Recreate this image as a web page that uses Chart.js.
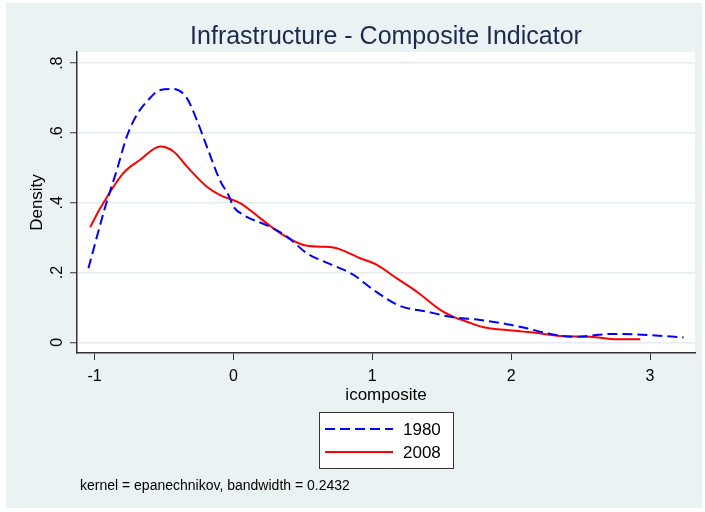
<!DOCTYPE html>
<html>
<head>
<meta charset="utf-8">
<script src="https://cdn.jsdelivr.net/npm/chart.js@4.4.1/dist/chart.umd.min.js"></script>
<style>
  html, body { margin: 0; padding: 0; background: #ffffff; }
  #wrap { width: 705px; height: 512px; }
</style>
</head>
<body>
<div id="wrap"><canvas id="chartDens" width="705" height="512"></canvas></div>
<script>
// valores (kdensity icomposite)
const x1980 = [-1.045, -0.923, -0.84, -0.768, -0.696, -0.624, -0.528, -0.432, -0.336, -0.264, -0.192, -0.096,
  -0.036, 0.0, 0.072, 0.264, 0.385, 0.529, 0.625, 0.769, 0.865, 1.009, 1.201, 1.393, 1.561, 1.777, 1.97, 2.114,
  2.258, 2.45, 2.738, 2.978, 3.242];
const d1980 = [0.212, 0.389, 0.494, 0.590, 0.652, 0.690, 0.723, 0.726, 0.70, 0.637, 0.561, 0.463,
  0.422, 0.389, 0.365, 0.331, 0.303, 0.255, 0.236, 0.212, 0.193, 0.150, 0.104, 0.088, 0.073, 0.064, 0.052, 0.040,
  0.026, 0.016, 0.024, 0.021, 0.014];

const x2008 = [-1.032, -0.96, -0.793, -0.672, -0.528, -0.432, -0.336, -0.192, -0.096, 0.048, 0.192, 0.336,
  0.504, 0.625, 0.72, 0.913, 1.033, 1.177, 1.321, 1.489, 1.585, 1.681, 1.801, 1.97, 2.161, 2.354, 2.57, 2.762, 2.93];
const d2008 = [0.330, 0.384, 0.485, 0.523, 0.561, 0.547, 0.504, 0.446, 0.422, 0.399, 0.356, 0.313,
  0.279, 0.274, 0.272, 0.241, 0.222, 0.183, 0.145, 0.093, 0.073, 0.059, 0.043, 0.035, 0.028, 0.018, 0.016, 0.009, 0.009];

const seriesNames = ['1980', '2008'];
const xTicks = [-1, 0, 1, 2, 3];
const xTickLabels = ['-1', '0', '1', '2', '3'];
const yTicks = [0, 0.2, 0.4, 0.6, 0.8];
const yTickLabels = ['0', '.2', '.4', '.6', '.8'];

const titleText = 'Infrastructure - Composite Indicator';
const xTitle = 'icomposite';
const yTitle = 'Density';
const noteText = 'kernel = epanechnikov, bandwidth = 0.2432';

const FONT = '"Liberation Sans", Arial, Helvetica, sans-serif';
const BG = '#EAF2F3';

function pts(xs, ys) { return xs.map((x, i) => ({ x: x, y: ys[i] })); }

// desenha fundo, titulo, rotulos e a legenda no estilo do Stata
const stataPlugin = {
  id: 'stata',
  beforeDraw(chart) {
    const ctx = chart.ctx, a = chart.chartArea;
    ctx.save();
    ctx.fillStyle = '#ffffff';
    ctx.fillRect(0, 0, chart.width, chart.height);
    ctx.fillStyle = BG;
    ctx.fillRect(6, 3, 696, 505);
    ctx.fillStyle = '#ffffff';
    ctx.fillRect(a.left, a.top, a.right - a.left, a.bottom - a.top);
    ctx.restore();
  },
  afterDraw(chart) {
    const ctx = chart.ctx, a = chart.chartArea;
    const xs = chart.scales.x, ys = chart.scales.y;
    const midX = (a.left + a.right) / 2;
    ctx.save();

    // titulo
    ctx.fillStyle = '#1E2A4C';
    ctx.font = '25px ' + FONT;
    ctx.textAlign = 'center';
    ctx.textBaseline = 'middle';
    ctx.fillText(titleText, midX, 37);

    // rotulos do eixo x
    ctx.fillStyle = '#000000';
    ctx.font = '16px ' + FONT;
    xTicks.forEach((v, i) => ctx.fillText(xTickLabels[i], xs.getPixelForValue(v), 377));
    ctx.font = '17px ' + FONT;
    ctx.fillText(xTitle, midX, 395);

    // rotulos do eixo y (girados)
    ctx.font = '16px ' + FONT;
    ctx.textBaseline = 'alphabetic';
    yTicks.forEach((v, i) => {
      ctx.save();
      ctx.translate(62, ys.getPixelForValue(v));
      ctx.rotate(-Math.PI / 2);
      ctx.fillText(yTickLabels[i], 0, 0);
      ctx.restore();
    });
    ctx.font = '17px ' + FONT;
    ctx.save();
    ctx.translate(42, (a.top + a.bottom) / 2);
    ctx.rotate(-Math.PI / 2);
    ctx.fillText(yTitle, 0, 0);
    ctx.restore();

    // legenda
    const lx = 319, ly = 412, lw = 134, lh = 56;
    ctx.fillStyle = '#ffffff';
    ctx.fillRect(lx, ly, lw, lh);
    ctx.strokeStyle = '#333333';
    ctx.lineWidth = 1;
    ctx.strokeRect(lx + 0.5, ly + 0.5, lw, lh);
    chart.data.datasets.forEach((ds, i) => {
      const yy = ly + 17 + i * 23;
      ctx.strokeStyle = ds.borderColor;
      ctx.lineWidth = ds.borderWidth;
      ctx.setLineDash(ds.borderDash || []);
      ctx.beginPath();
      ctx.moveTo(325, yy);
      ctx.lineTo(393, yy);
      ctx.stroke();
      ctx.setLineDash([]);
      ctx.fillStyle = '#000000';
      ctx.font = '17px ' + FONT;
      ctx.textAlign = 'left';
      ctx.textBaseline = 'middle';
      ctx.fillText(seriesNames[i], 403, yy + 1);
    });

    // nota
    ctx.font = '14px ' + FONT;
    ctx.textAlign = 'left';
    ctx.fillText(noteText, 80, 486);
    ctx.restore();
  }
};

const ctx = document.getElementById('chartDens').getContext('2d');
const chart = new Chart(ctx, {
  type: 'line',
  data: {
    datasets: [{
      label: seriesNames[0],
      data: pts(x1980, d1980),
      borderColor: '#0000FF',
      borderWidth: 2,
      borderDash: [10, 5],
      pointRadius: 0,
      cubicInterpolationMode: 'monotone',
      fill: false
    }, {
      label: seriesNames[1],
      data: pts(x2008, d2008),
      borderColor: '#FF0000',
      borderWidth: 2,
      pointRadius: 0,
      cubicInterpolationMode: 'monotone',
      fill: false
    }]
  },
  options: {
    responsive: false,
    animation: false,
    layout: { padding: { left: 0, top: 52, right: 10, bottom: 119 } },
    scales: {
      x: {
        type: 'linear',
        min: -1.127,
        max: 3.324,
        afterBuildTicks: (s) => { s.ticks = xTicks.map(v => ({ value: v })); },
        afterFit: (s) => { s.height = 40; },
        ticks: { display: false },
        grid: { display: true, drawOnChartArea: false, drawTicks: true, tickLength: 7, tickColor: '#333333', tickWidth: 1 },
        border: { display: true, color: '#333333', width: 1.5 }
      },
      y: {
        type: 'linear',
        min: -0.0307,
        max: 0.832,
        afterBuildTicks: (s) => { s.ticks = yTicks.map(v => ({ value: v })); },
        afterFit: (s) => { s.width = 77; },
        ticks: { display: false },
        grid: { color: '#E3ECEF', lineWidth: 1.5, drawTicks: true, tickLength: 7, tickColor: '#333333', tickWidth: 1 },
        border: { display: true, color: '#333333', width: 1.5 }
      }
    },
    plugins: {
      legend: { display: false },
      title: { display: false },
      tooltip: { enabled: false }
    }
  },
  plugins: [stataPlugin]
});
</script>
</body>
</html>
